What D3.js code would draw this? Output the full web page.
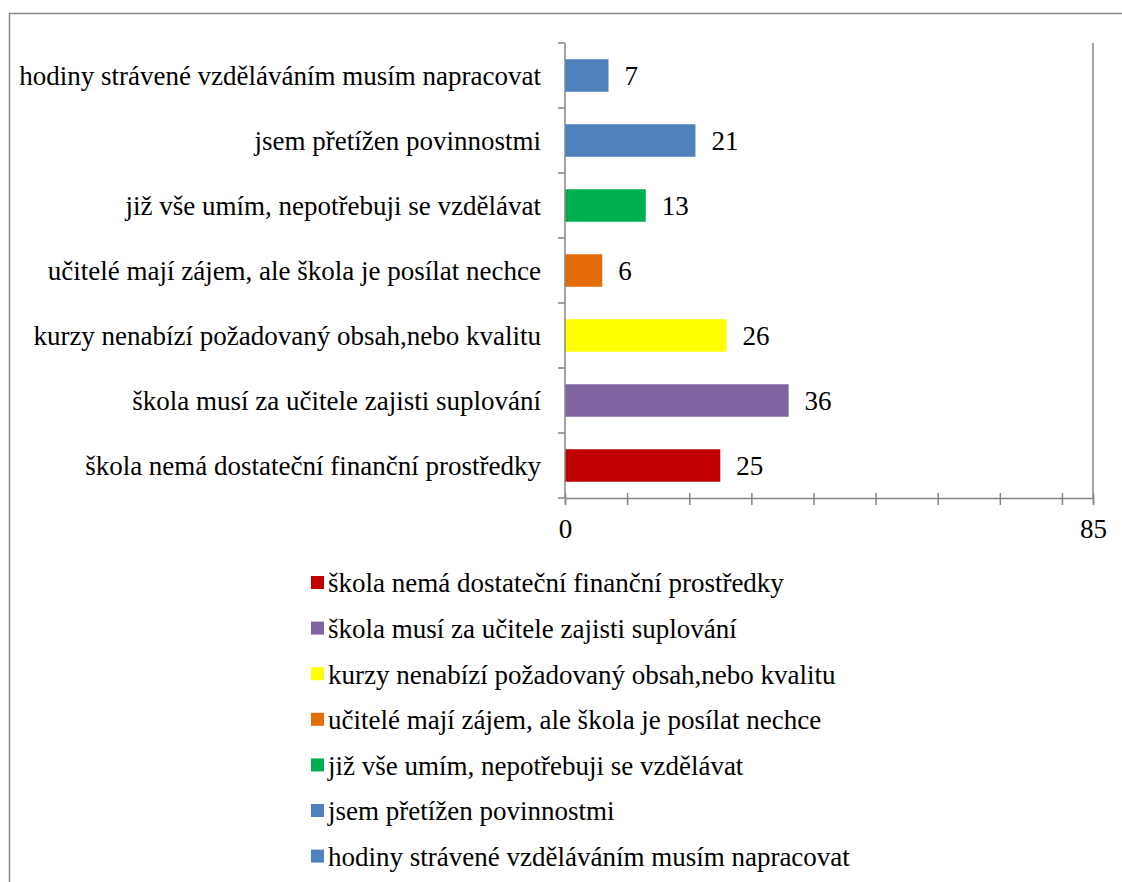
<!DOCTYPE html>
<html>
<head>
<meta charset="utf-8">
<script src="https://cdn.jsdelivr.net/npm/d3@7"></script>
</head>
<body style="margin:0">
<div id="chart"></div>
<script>
// categories listed bottom to top, as in the legend
const categories = [
  'škola nemá dostateční finanční prostředky',
  'škola musí za učitele zajisti suplování',
  'kurzy nenabízí požadovaný obsah,nebo kvalitu',
  'učitelé mají zájem, ale škola je posílat nechce',
  'již vše umím, nepotřebuji se vzdělávat',
  'jsem přetížen povinnostmi',
  'hodiny strávené vzděláváním musím napracovat'
]
const values = [25, 36, 26, 6, 13, 21, 7]
const colors = ['#C00000', '#8064A2', '#FFFF00', '#E46C0A', '#00B050', '#4F81BD', '#4F81BD']
const xMax = 85
const xTicks = [0, 10, 20, 30, 40, 50, 60, 70, 80, 85]
const xLabels = [0, 85]

const width = 1122
const height = 882
const margin = { top: 43, left: 565, right: 29, bottom: 384 }
const serif = 'Liberation Serif'
const fontSize = 27

const svg = d3.select('#chart')
  .append('svg')
  .attr('width', width)
  .attr('height', height)

// outer frame (runs off the right and bottom edge)
svg.append('path')
  .attr('d', `M9.5,${height}V13.5H${width}`)
  .attr('fill', 'none')
  .attr('stroke', '#8a8a8a')
  .attr('stroke-width', 1.5)

const x = d3.scaleLinear()
  .domain([0, xMax])
  .range([margin.left, width - margin.right])

const y = d3.scaleBand()
  .domain(categories.slice().reverse())
  .range([margin.top, height - margin.bottom])
  .paddingInner(0.5)
  .paddingOuter(0.25)

const yBottom = height - margin.bottom
const axisColor = '#868686'

// right edge line at the axis maximum
svg.append('line')
  .attr('x1', x(xMax)).attr('x2', x(xMax))
  .attr('y1', margin.top).attr('y2', yBottom)
  .attr('stroke', axisColor)
  .attr('stroke-width', 1.5)

// bars
svg.append('g')
  .selectAll('rect')
  .data(categories)
  .join('rect')
  .attr('x', x(0))
  .attr('y', d => y(d))
  .attr('width', (d, i) => x(values[i]) - x(0))
  .attr('height', y.bandwidth())
  .attr('fill', (d, i) => colors[i])

// value labels
svg.append('g')
  .selectAll('text')
  .data(categories)
  .join('text')
  .attr('x', (d, i) => x(values[i]) + 16)
  .attr('y', d => y(d) + y.bandwidth() / 2)
  .attr('dy', '0.35em')
  .attr('font-family', serif)
  .attr('font-size', fontSize)
  .text((d, i) => values[i])

// x axis, ticks cross the line
const xAxis = d3.axisBottom(x)
  .tickValues(xTicks)
  .tickSize(7)
  .tickFormat(d => (xLabels.includes(d) ? d : ''))

const gx = svg.append('g')
  .attr('transform', `translate(0,${yBottom})`)
  .call(xAxis)
gx.attr('font-family', serif).attr('font-size', fontSize)
gx.select('.domain').attr('stroke', axisColor).attr('stroke-width', 1.5)
gx.selectAll('.tick line')
  .attr('y1', -5)
  .attr('stroke', axisColor)
  .attr('stroke-width', 1.5)
gx.selectAll('.tick text')
  .attr('y', 21)
  .attr('dy', '0.71em')
  .attr('fill', '#000')
  .attr('font-family', serif)
  .attr('font-size', fontSize)

// category axis with ticks between bands
const step = y.step()
const bandEdges = d3.range(categories.length + 1).map(i => margin.top + i * step)
const gy = svg.append('g')
gy.append('line')
  .attr('x1', x(0)).attr('x2', x(0))
  .attr('y1', margin.top).attr('y2', yBottom)
  .attr('stroke', axisColor)
  .attr('stroke-width', 1.5)
gy.selectAll('.edge')
  .data(bandEdges)
  .join('line')
  .attr('class', 'edge')
  .attr('x1', x(0) - 7).attr('x2', x(0))
  .attr('y1', d => d).attr('y2', d => d)
  .attr('stroke', axisColor)
  .attr('stroke-width', 1.5)
gy.selectAll('text')
  .data(categories)
  .join('text')
  .attr('x', x(0) - 24)
  .attr('y', d => y(d) + y.bandwidth() / 2)
  .attr('dy', '0.35em')
  .attr('text-anchor', 'end')
  .attr('font-family', serif)
  .attr('font-size', fontSize)
  .text(d => d)

// legend
const legend = svg.append('g')
  .attr('transform', 'translate(311,583)')
const item = legend.selectAll('g')
  .data(categories)
  .join('g')
  .attr('transform', (d, i) => `translate(0,${i * 45.6})`)
item.append('rect')
  .attr('x', 0)
  .attr('y', -7)
  .attr('width', 13)
  .attr('height', 13)
  .attr('fill', (d, i) => colors[i])
item.append('text')
  .attr('x', 17)
  .attr('dy', '0.35em')
  .attr('font-family', serif)
  .attr('font-size', fontSize)
  .text(d => d)
</script>
</body>
</html>
